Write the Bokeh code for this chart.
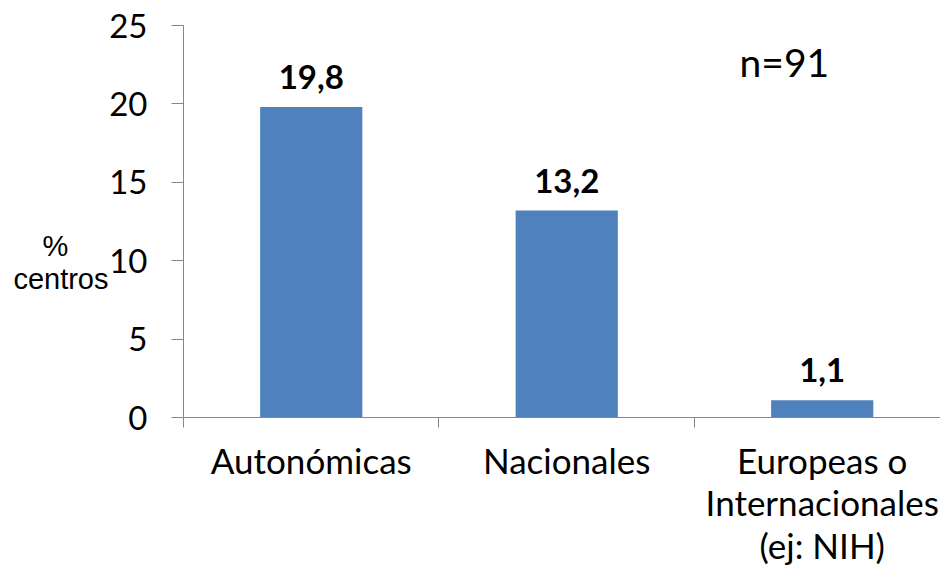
from bokeh.plotting import figure
from bokeh.models import Range1d, FixedTicker, LabelSet, Label, ColumnDataSource, LinearAxis
from bokeh.core.properties import value
from bokeh.embed import file_html
from bokeh.resources import INLINE

# ---- data ----
categories = ["Autonómicas", "Nacionales", "Europeas o\nInternacionales\n(ej: NIH)"]
values = [19.8, 13.2, 1.1]
value_labels = ["19,8", "13,2", "1,1"]
y_ticks = [0, 5, 10, 15, 20, 25]
note_text = "n=91"
y_title_lines = ["%", "centros"]

BAR_COLOR = "#4F81BD"
AXIS_COLOR = "#868686"
FONT = "Lato"

W, H = 940, 576
p = figure(width=W, height=H, x_range=Range1d(0, 2.963), y_range=Range1d(0, 25),
           output_backend="svg", toolbar_location=None,
           min_border_left=183, min_border_top=25, min_border_bottom=159, min_border_right=0)
p.outline_line_color = None
p.xgrid.visible = False
p.ygrid.visible = False

xs = [i + 0.5 for i in range(len(categories))]
src = ColumnDataSource(dict(x=xs, top=values, label=value_labels))
p.vbar(x="x", top="top", bottom=0, width=0.4, source=src, fill_color=BAR_COLOR, line_color=None)

# x axis: labels at category centres, boundary tick marks as minor ticks
xa = p.xaxis[0]
xa.ticker = FixedTicker(ticks=xs, minor_ticks=list(range(len(categories))))
xa.major_label_overrides = {x: c for x, c in zip(xs, categories)}
xa.major_tick_out = 10
xa.major_tick_in = 0
xa.major_tick_line_color = None
xa.minor_tick_out = 10
xa.minor_tick_in = 0
xa.minor_tick_line_color = AXIS_COLOR
xa.axis_line_color = AXIS_COLOR
xa.major_label_standoff = 11
xa.major_label_text_font = FONT
xa.major_label_text_font_size = "35px"
xa.major_label_text_color = "black"
xa.major_label_text_line_height = 1.02

# y axis
p.yaxis.ticker = FixedTicker(ticks=y_ticks)
p.yaxis.major_tick_out = 12
p.yaxis.major_tick_in = 0
p.yaxis.minor_tick_line_color = None
p.yaxis.axis_line_color = AXIS_COLOR
p.yaxis.major_tick_line_color = AXIS_COLOR
p.yaxis.major_label_text_font = FONT
p.yaxis.major_label_text_font_size = "33px"
p.yaxis.major_label_text_color = "black"
p.yaxis.major_label_standoff = 24

# y title as a label-only axis
title_pos = [10.94, 8.84]
title_axis = LinearAxis(ticker=FixedTicker(ticks=title_pos),
                        major_label_overrides={title_pos[0]: y_title_lines[0] + "\u00a0" * 5,
                                               title_pos[1]: y_title_lines[1]},
                        axis_line_color=None, major_tick_line_color=None, minor_tick_line_color=None,
                        major_label_standoff=-8,
                        major_label_text_font="Liberation Sans", major_label_text_font_size="29px",
                        major_label_text_color="black")
p.add_layout(title_axis, "left")

# value labels
p.add_layout(LabelSet(x="x", y="top", text="label", source=src, y_offset=30,
                      text_align="center", text_baseline="middle",
                      text_font=value(FONT), text_font_style="bold", text_font_size="33px",
                      text_color="black"))

# note
p.add_layout(Label(x=2.352, y=22.65, text=note_text, text_align="center",
                   text_baseline="middle", text_font=FONT, text_font_size="39px",
                   text_color="black"))

open("out.html", "w").write(file_html(p, INLINE))
